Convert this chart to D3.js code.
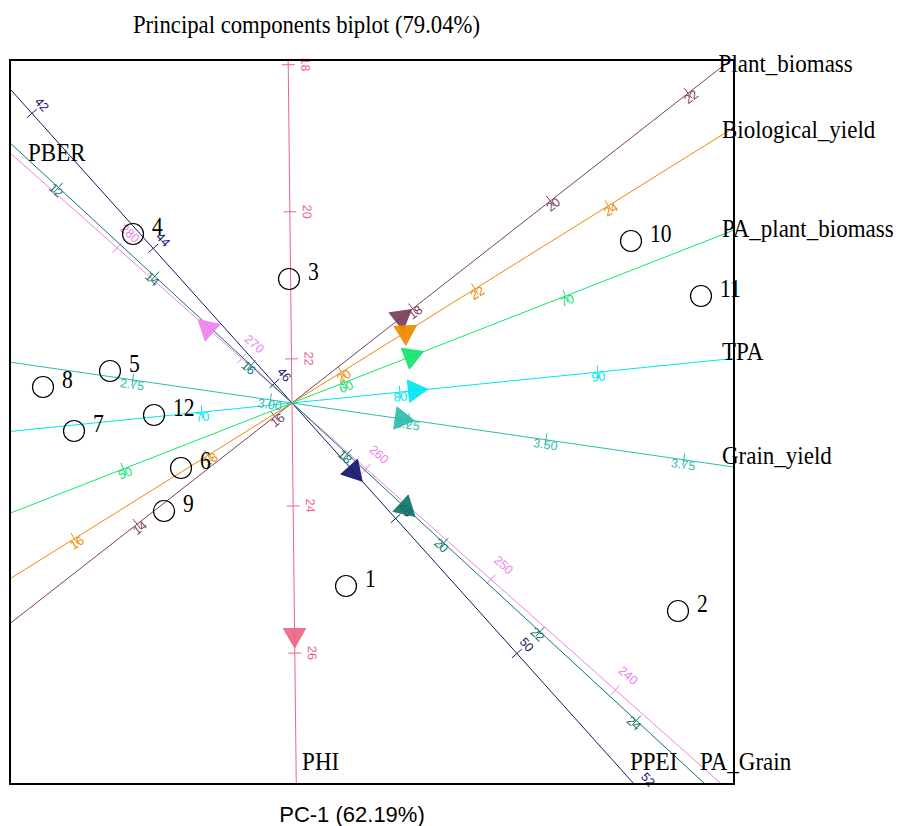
<!DOCTYPE html>
<html>
<head>
<meta charset="utf-8">
<script src="https://cdn.jsdelivr.net/npm/d3@7"></script>
<style>
body { margin: 0; background: #fff; }
text { font-family: "Liberation Serif", "Times New Roman", serif; }
.tick-label { font-family: "Liberation Sans", Arial, sans-serif; font-size: 12.5px; }
</style>
</head>
<body>
<svg id="chart" width="902" height="826"></svg>
<script>
// genotype scores on the first two components
var genotypes = ['1','2','3','4','5','6','7','8','9','10','11','12'] ;
var pc1 = [0.54, 3.86, -0.03, -1.59, -1.82, -1.11, -2.18, -2.49, -1.28, 3.39, 4.09, -1.38] ;
var pc2 = [-1.83, -2.08, 1.24, 1.69, 0.32, -0.65, -0.28, 0.16, -1.08, 1.62, 1.07, -0.12] ;

// trait axes: arrow position, value at the origin, PC units per trait unit, calibration marks
var traits = ['Plant_biomass','Biological_yield','PA_plant_biomass','TPA','Grain_yield','PBER','PPEI','PA_Grain','PHI'] ;
var arrowX = [1.092, 1.134, 1.194, 1.229, 1.097, -0.842, 0.615, 1.134, 0.026] ;
var arrowY = [0.854, 0.707, 0.467, 0.124, -0.159, 0.747, -0.685, -1.046, -2.320] ;
var traitMean = [16.25, 19.26, 57.63, 74.55, 3.039, 265.96, 46.29, 16.85, 22.60] ;
var traitStep = [0.8745, 0.7867, 0.2373, 0.199, 5.568, 0.1665, 0.9073, 0.6552, 0.7355] ;
var traitTicks = [
	[14, 16, 18, 20, 22],
	[16, 18, 20, 22, 24],
	[50, 60, 70],
	[70, 80, 90],
	[2.75, 3.00, 3.25, 3.50, 3.75],
	[240, 250, 260, 270, 280],
	[42, 44, 46, 48, 50, 52],
	[12, 14, 16, 18, 20, 22, 24],
	[18, 20, 22, 24, 26]
] ;

var title = 'Principal components biplot (79.04%)' ;
var xTitle = 'PC-1  (62.19%)' ;

// styling
var traitColors = ['#7B3D5D','#EE8A00','#12E46E','#00E6F0','#2FBDAE','#EE82EE','#14156C','#127567','#EC6686'] ;
var tickSide = [-5, -5, -5, -5, -5, -19, 13, -4, 17] ;

var L = 10, R = 734, T = 60, B = 784 ;
var sx = d3.scaleLinear().domain([-2.82, 4.42]).range([L, R]) ;
var sy = d3.scaleLinear().domain([-3.81, 3.43]).range([B, T]) ;

var svg = d3.select('#chart') ;
svg.append('rect').attr('width', 902).attr('height', 826).attr('fill', '#fff') ;
svg.append('clipPath').attr('id', 'box').append('rect')
	.attr('x', L).attr('y', T).attr('width', R - L).attr('height', B - T) ;

var gLines = svg.append('g').attr('clip-path', 'url(#box)') ;
var gLabels = svg.append('g') ;
var gArrows = svg.append('g').attr('clip-path', 'url(#box)') ;
var ox = sx(0), oy = sy(0) ;

function exitOf(d) {
	var tx = d[0] > 0 ? (R - ox) / d[0] : (d[0] < 0 ? (L - ox) / d[0] : Infinity) ;
	var ty = d[1] > 0 ? (B - oy) / d[1] : (d[1] < 0 ? (T - oy) / d[1] : Infinity) ;
	if ( tx < ty ) return { side: d[0] > 0 ? 'right' : 'left', x: ox + d[0] * tx, y: oy + d[1] * tx } ;
	return { side: d[1] > 0 ? 'bottom' : 'top', x: ox + d[0] * ty, y: oy + d[1] * ty } ;
}

for ( var i = 0 ; i < traits.length ; ++i ) {
	var col = traitColors[i] ;
	var len = Math.hypot(arrowX[i], arrowY[i]) ;
	var ux = arrowX[i] / len, uy = arrowY[i] / len ;
	var du = [ux, -uy] ;               // screen direction
	var perp = [du[1], -du[0]] ;
	var dirAng = Math.atan2(du[1], du[0]) * 180 / Math.PI ;
	var ang = dirAng ;
	if ( ang > 90 ) ang -= 180 ;
	if ( ang < -90 ) ang += 180 ;

	gLines.append('line')
		.attr('x1', sx(-12 * ux)).attr('y1', sy(-12 * uy))
		.attr('x2', sx(12 * ux)).attr('y2', sy(12 * uy))
		.attr('stroke', col).attr('stroke-width', 1) ;

	var fmt = traitTicks[i].some(function(v) { return v % 1 != 0 ; }) ? d3.format('.2f') : d3.format('d') ;
	traitTicks[i].forEach(function(v) {
		var t = (v - traitMean[i]) * traitStep[i] ;
		var px = sx(t * ux), py = sy(t * uy) ;
		if ( px < L - 6 || px > R + 6 || py < T - 6 || py > B + 6 ) return ;
		gLines.append('line')
			.attr('x1', px - perp[0] * 6.5).attr('y1', py - perp[1] * 6.5)
			.attr('x2', px + perp[0] * 6.5).attr('y2', py + perp[1] * 6.5)
			.attr('stroke', col).attr('stroke-width', 1) ;
		var lx = px + perp[0] * tickSide[i], ly = py + perp[1] * tickSide[i] ;
		gLabels.append('text').attr('class', 'tick-label')
			.attr('transform', 'translate(' + lx + ',' + ly + ') rotate(' + ang + ')')
			.attr('text-anchor', 'middle').attr('dominant-baseline', 'central')
			.attr('fill', col).text(fmt(v)) ;
	}) ;

	// arrow head pointing along the axis
	gArrows.append('path')
		.attr('d', d3.symbol(d3.symbolTriangle, 220)())
		.attr('transform', 'translate(' + sx(arrowX[i]) + ',' + sy(arrowY[i]) + ') rotate(' + (dirAng + 90) + ')')
		.attr('fill', col).attr('fill-opacity', 0.92)
		.attr('stroke', col).attr('stroke-width', 0.8) ;

	// trait name at the end of the positive direction
	var e = exitOf(du), tx, ty ;
	if ( e.side == 'right' || (e.side == 'top' && e.x > ox) ) {
		tx = Math.min(e.x, R) - 12 ; ty = e.y + 20 * (-du[1]) ;
	} else if ( e.side == 'bottom' ) {
		tx = e.x + 6 - 15 * Math.abs(du[0]) ; ty = B - 14 ;
	} else {
		tx = L + 18 ; ty = e.y + 8 ;
	}
	svg.append('text')
		.attr('transform', 'translate(' + tx + ',' + ty + ') scale(0.92,1)')
		.attr('font-size', 25).attr('fill', '#000').text(traits[i]) ;
}

// genotypes
var pts = svg.append('g') ;
genotypes.forEach(function(g, k) {
	var cx = sx(pc1[k]), cy = sy(pc2[k]) ;
	pts.append('circle').attr('cx', cx).attr('cy', cy).attr('r', 10.5)
		.attr('fill', 'none').attr('stroke', '#000').attr('stroke-width', 1.2) ;
	pts.append('text')
		.attr('transform', 'translate(' + (cx + 19) + ',' + (cy + 1) + ') scale(0.83,1)')
		.attr('font-size', 26).attr('fill', '#000').text(g) ;
}) ;

svg.append('rect').attr('x', L).attr('y', T).attr('width', R - L).attr('height', B - T)
	.attr('fill', 'none').attr('stroke', '#000').attr('stroke-width', 2) ;

svg.append('text')
	.attr('transform', 'translate(306.5,33) scale(0.875,1)')
	.attr('text-anchor', 'middle').attr('font-size', 26).text(title) ;

svg.append('text')
	.attr('x', 352).attr('y', 822).attr('text-anchor', 'middle')
	.style('font-family', '"Liberation Sans", Arial, sans-serif').attr('font-size', 22)
	.text(xTitle) ;
</script>
</body>
</html>
